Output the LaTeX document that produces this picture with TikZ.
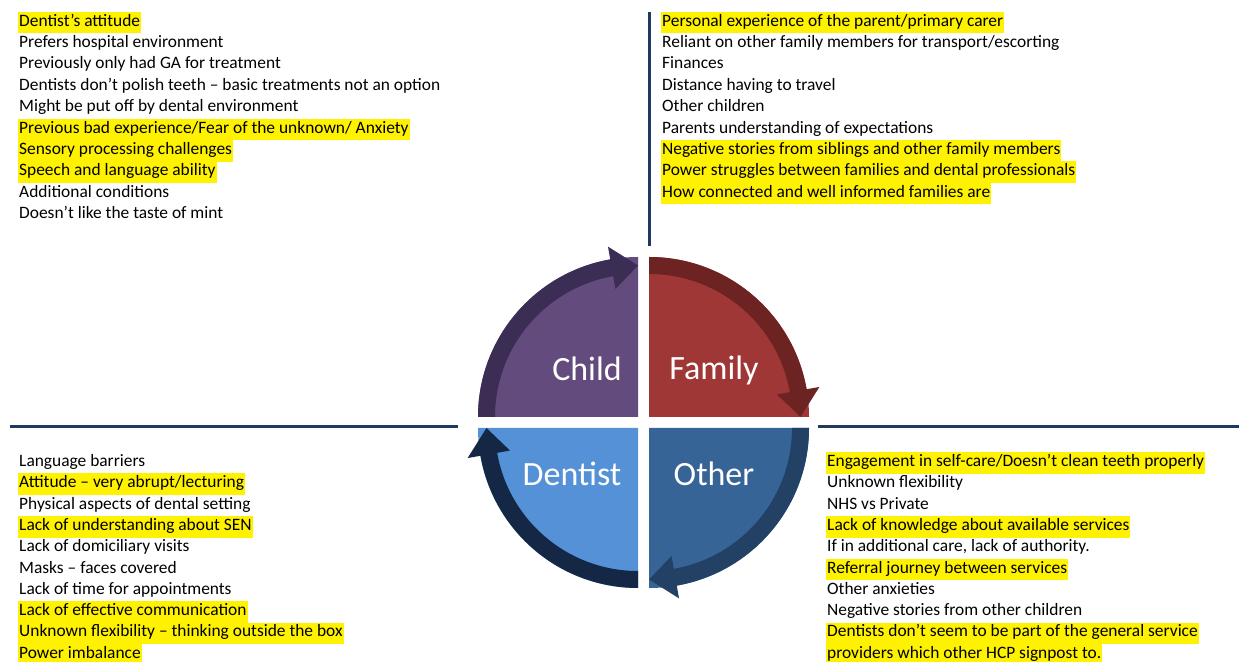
\documentclass[tikz,border=0pt]{standalone}
\usepackage{fontspec}
\setmainfont{Carlito}
\usepackage{tikz}
\usetikzlibrary{calc}

\definecolor{childfill}{HTML}{644B7D}
\definecolor{childband}{HTML}{3C2D55}
\definecolor{famfill}{HTML}{A03737}
\definecolor{famband}{HTML}{6E2323}
\definecolor{othfill}{HTML}{376496}
\definecolor{othband}{HTML}{234164}
\definecolor{denfill}{HTML}{5591D7}
\definecolor{denband}{HTML}{142846}
\definecolor{axisline}{HTML}{1F3A5F}

\tikzset{
  item/.style={anchor=west, inner xsep=1pt, inner ysep=3.4pt, text height=11pt, text depth=3.8pt,
    font=\fontsize{17.4}{20}\selectfont},
  seglabel/.style={text=white, font=\fontsize{34}{40}\selectfont}
}

\begin{document}
\begin{tikzpicture}[x=1pt, y=1pt]
    \useasboundingbox (0,0) rectangle (1239,661);
    \draw[axisline, line width=3pt] (649,649) -- (649,415);
    \draw[axisline, line width=3pt] (10,234) -- (458,234);
    \draw[axisline, line width=3pt] (818,234) -- (1239,234);

    \foreach \cx/\cy/\a/\fc/\bc in {638/244/180/childfill/childband, 649/244/90/famfill/famband,
        649/233/0/othfill/othband, 638/233/270/denfill/denband} {
      \pgfmathsetmacro\b{\a-80}
      \pgfmathsetmacro\e{\a-90}
      \fill[fill=\fc] (\cx,\cy) -- ++(\a:160) arc[start angle=\a, end angle=\e, radius=160] -- cycle;
      \fill[fill=\bc] ([shift={(\cx,\cy)}]\a:160) arc[start angle=\a, end angle=\b, radius=160]
        -- ([shift={(\cx,\cy)}]\b:173) -- ([shift={(\cx,\cy)}]\e:151.5) -- ([shift={(\cx,\cy)}]\b:130)
        -- ([shift={(\cx,\cy)}]\b:143) arc[start angle=\b, end angle=\a, radius=143] -- cycle;
    }
    \node[seglabel] (child) at (587,292) {Child};
    \node[seglabel] (family) at (714,291) {Family};
    \node[seglabel] (dentist) at (572,187) {Dentist};
    \node[seglabel] (other) at (714,187) {Other};

    \foreach \t/\h [count=\i] in {{Dentist's attitude}/yellow, {Prefers hospital environment}/none,
        {Previously only had GA for treatment}/none, {Dentists don't polish teeth – basic treatments not an option}/none,
        {Might be put off by dental environment}/none, {Previous bad experience/Fear of the unknown/ Anxiety}/yellow,
        {Sensory processing challenges}/yellow, {Speech and language ability}/yellow,
        {Additional conditions}/none, {Doesn't like the taste of mint}/none}
      \node[item, fill=\h] (childf\i) at (18,{661-22.5-21.4*(\i-1)}) {\t};

    \foreach \t/\h [count=\i] in {{Personal experience of the parent/primary carer}/yellow,
        {Reliant on other family members for transport/escorting}/none, {Finances}/none,
        {Distance having to travel}/none, {Other children}/none, {Parents understanding of expectations}/none,
        {Negative stories from siblings and other family members}/yellow,
        {Power struggles between families and dental professionals}/yellow,
        {How connected and well informed families are}/yellow}
      \node[item, fill=\h] (familyf\i) at (661,{661-22.5-21.4*(\i-1)}) {\t};

    \foreach \t/\h [count=\i] in {{Language barriers}/none, {Attitude – very abrupt/lecturing}/yellow,
        {Physical aspects of dental setting}/none, {Lack of understanding about SEN}/yellow,
        {Lack of domiciliary visits}/none, {Masks – faces covered}/none, {Lack of time for appointments}/none,
        {Lack of effective communication}/yellow, {Unknown flexibility – thinking outside the box}/yellow,
        {Power imbalance}/yellow}
      \node[item, fill=\h] (dentistf\i) at (18,{661-463-21.3*(\i-1)}) {\t};

    \foreach \t/\h [count=\i] in {{Engagement in self-care/Doesn't clean teeth properly}/yellow,
        {Unknown flexibility}/none, {NHS vs Private}/none, {Lack of knowledge about available services}/yellow,
        {If in additional care, lack of authority.}/none, {Referral journey between services}/yellow,
        {Other anxieties}/none, {Negative stories from other children}/none,
        {Dentists don't seem to be part of the general service}/yellow,
        {providers which other HCP signpost to.}/yellow}
      \node[item, fill=\h] (otherf\i) at (826,{661-463-21.3*(\i-1)}) {\t};
\end{tikzpicture}
\end{document}
